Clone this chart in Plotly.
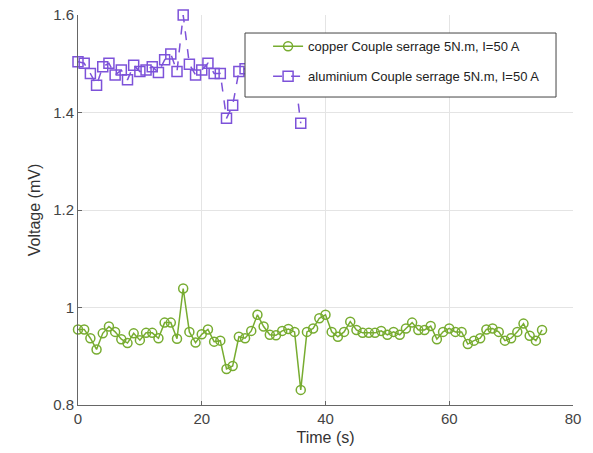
import plotly.graph_objects as go

# Time samples (s)
time_cu = list(range(0, 76))
time_al = list(range(0, 37))

# Copper joint voltage (mV)
copper_mv = [
    0.955, 0.955, 0.937, 0.914, 0.947, 0.961, 0.950, 0.935, 0.927, 0.947,
    0.933, 0.948, 0.948, 0.937, 0.969, 0.969, 0.936, 1.039, 0.950, 0.928,
    0.945, 0.955, 0.930, 0.932, 0.874, 0.880, 0.940, 0.937, 0.952, 0.985,
    0.961, 0.944, 0.943, 0.952, 0.956, 0.950, 0.831, 0.950, 0.957, 0.978,
    0.985, 0.950, 0.940, 0.950, 0.971, 0.954, 0.948, 0.948, 0.948, 0.952,
    0.944, 0.950, 0.944, 0.957, 0.969, 0.954, 0.954, 0.962, 0.935, 0.950,
    0.957, 0.950, 0.950, 0.925, 0.932, 0.937, 0.955, 0.957, 0.950, 0.932,
    0.937, 0.950, 0.967, 0.942, 0.932, 0.954,
]

# Aluminium joint voltage (mV)
aluminium_mv = [
    1.504, 1.501, 1.480, 1.456, 1.494, 1.501, 1.477, 1.487, 1.467, 1.497,
    1.484, 1.487, 1.494, 1.482, 1.508, 1.520, 1.484, 1.600, 1.499, 1.477,
    1.487, 1.501, 1.480, 1.480, 1.388, 1.415, 1.484, 1.490, 1.486, 1.495,
    1.482, 1.488, 1.492, 1.485, 1.490, 1.480, 1.378,
]

x_ticks = [0, 20, 40, 60, 80]
y_ticks = [0.8, 1.0, 1.2, 1.4, 1.6]
y_tick_text = ["0.8", "1", "1.2", "1.4", "1.6"]

green = "#77ac30"
purple = "#7d52d9"
base_font = "Liberation Sans, Arial, sans-serif"

fig = go.Figure()
fig.add_trace(go.Scatter(
    x=time_cu, y=copper_mv, mode="lines+markers",
    name="copper Couple serrage 5N.m, I=50 A", legendgroup="cu",
    line=dict(color=green, width=1.5),
    marker=dict(symbol="circle-open", size=9, color=green, line=dict(width=1.5)),
    cliponaxis=False,
))
fig.add_trace(go.Scatter(
    x=time_al, y=aluminium_mv, mode="lines+markers",
    name="aluminium Couple serrage 5N.m, I=50 A", legendgroup="al",
    line=dict(color=purple, width=1.5, dash="dash"),
    marker=dict(symbol="square-open", size=10, color=purple, line=dict(width=1.5)),
    cliponaxis=False,
))

# Framed white box behind the legend entries
fig.add_shape(
    type="rect", xref="paper", yref="paper",
    x0=0.3374, x1=0.9657, y0=0.7897, y1=0.9538,
    fillcolor="white", line=dict(color="#444", width=1), layer="above",
)

tick_font = dict(family=base_font, size=15, color="#444")
title_font = dict(family=base_font, size=16, color="#333")

fig.update_layout(
    width=593, height=453,
    margin=dict(l=78, r=20, t=15, b=48),
    paper_bgcolor="white", plot_bgcolor="white",
    font=dict(family=base_font, color="#222"),
    showlegend=True,
    legend=dict(
        x=0.384, y=0.958, xanchor="left", yanchor="top",
        bgcolor="rgba(0,0,0,0)", borderwidth=0,
        font=dict(family=base_font, size=13, color="#222"),
        tracegroupgap=10, traceorder="grouped",
    ),
    xaxis=dict(
        range=[0, 80], tickvals=x_ticks, ticks="inside", ticklen=4,
        tickcolor="#666", showline=True, linecolor="#666", linewidth=1,
        showgrid=True, gridcolor="#e4e4e4", zeroline=False,
        tickfont=tick_font, automargin=False,
        title=dict(text="Time (s)", font=title_font, standoff=5),
    ),
    yaxis=dict(
        range=[0.8, 1.6], tickvals=y_ticks, ticktext=y_tick_text,
        ticks="inside", ticklen=4, tickcolor="#666",
        showline=True, linecolor="#666", linewidth=1,
        showgrid=True, gridcolor="#e4e4e4", zeroline=False,
        tickfont=tick_font, automargin=False,
        title=dict(text="Voltage (mV)", font=title_font, standoff=8),
    ),
)

fig.write_html("out.html")
